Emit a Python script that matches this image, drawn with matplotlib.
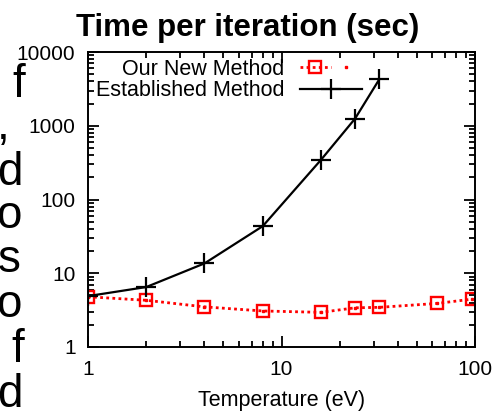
import matplotlib
matplotlib.use("Agg")
import matplotlib.pyplot as plt
from matplotlib.ticker import FixedLocator, NullFormatter, FuncFormatter
from matplotlib.legend_handler import HandlerTuple

plt.rcParams['font.family'] = ['Liberation Sans', 'DejaVu Sans']

# data
temp_new = [1, 2, 4, 8, 16, 24, 32, 64, 96]
time_new = [4.8, 4.3, 3.5, 3.08, 2.95, 3.4, 3.45, 3.9, 4.45]

temp_est = [1, 2, 4, 8, 16, 24, 32]
time_est = [4.9, 6.5, 13.6, 43.5, 345, 1250, 4250]

label_new = 'Our New Method'
label_est = 'Established Method'
title = 'Time per iteration (sec)'
xlabel = 'Temperature (eV)'

# clipped letters of the neighbouring paragraph text: char, right edge, baseline (px)
side_chars = ['f', ',', 'd', 'o', 's', 'o', 'f', 'd']
side_right = [25, 10, 23, 22, 21, 22, 24, 23]
side_base = [97, 139, 185, 228, 272, 317, 362, 407]

W, H = 495, 413
fig = plt.figure(figsize=(W / 100, H / 100), dpi=100)
ax = fig.add_axes([88 / W, 1 - 347 / H, (475 - 88) / W, (347 - 52) / H])

red = '#ff0000'
ln_new, = ax.plot(temp_new, time_new, color=red, linestyle=(0, (1, 1.2)), linewidth=2,
                  marker='s', markersize=8, markerfacecolor='none',
                  markeredgecolor=red, markeredgewidth=1.7)
dots_new, = ax.plot(temp_new, time_new, linestyle='none', marker='s', markersize=1.6,
                    markerfacecolor=red, markeredgecolor=red)
ln_est, = ax.plot(temp_est, time_est, color='black', linewidth=1.6,
                  marker='+', markersize=15, markeredgewidth=1.6)

ax.set_xscale('log')
ax.set_yscale('log')
ax.set_xlim(1, 100)
ax.set_ylim(1, 10000)

plain = FuncFormatter(lambda v, p: f'{v:g}' if v < 1e4 else '10000')
ax.xaxis.set_major_locator(FixedLocator([1, 10, 100]))
ax.yaxis.set_major_locator(FixedLocator([1, 10, 100, 1000, 10000]))
ax.xaxis.set_major_formatter(plain)
ax.yaxis.set_major_formatter(plain)
minors_x = [m * d for d in (1, 10) for m in range(2, 10)]
minors_y = [m * d for d in (1, 10, 100, 1000) for m in range(2, 10)]
ax.xaxis.set_minor_locator(FixedLocator(minors_x))
ax.yaxis.set_minor_locator(FixedLocator(minors_y))
ax.xaxis.set_minor_formatter(NullFormatter())
ax.yaxis.set_minor_formatter(NullFormatter())

ax.tick_params(which='both', direction='in', top=True, right=True, width=1.3,
               labelsize=15)
ax.tick_params(which='major', length=8)
ax.tick_params(which='minor', length=4)
ax.tick_params(axis='x', which='major', pad=9.5)
ax.tick_params(axis='y', which='major', pad=9)
for s in ax.spines.values():
    s.set_linewidth(1.4)

ax.set_xlabel(xlabel, fontsize=15.5, labelpad=7.5)

fig.text(0.5, 1 - 36 / H, title, ha='center', va='baseline',
         fontsize=22.5, fontweight='bold')

leg = ax.legend([(ln_new, dots_new), ln_est], [label_new, label_est],
                handler_map={tuple: HandlerTuple(ndivide=None)},
                loc='upper right', bbox_to_anchor=(362 / W, 1 - 59 / H),
                bbox_transform=fig.transFigure, frameon=False, markerfirst=False,
                fontsize=15.5, numpoints=1, handlelength=2.9, handletextpad=0.7,
                labelspacing=0.02, borderpad=0, borderaxespad=0)

for ch, xr, yb in zip(side_chars, side_right, side_base):
    fig.text(xr / W, 1 - yb / H, ch, ha='right', va='baseline', fontsize=33)

fig.savefig('out.png', dpi=100)
